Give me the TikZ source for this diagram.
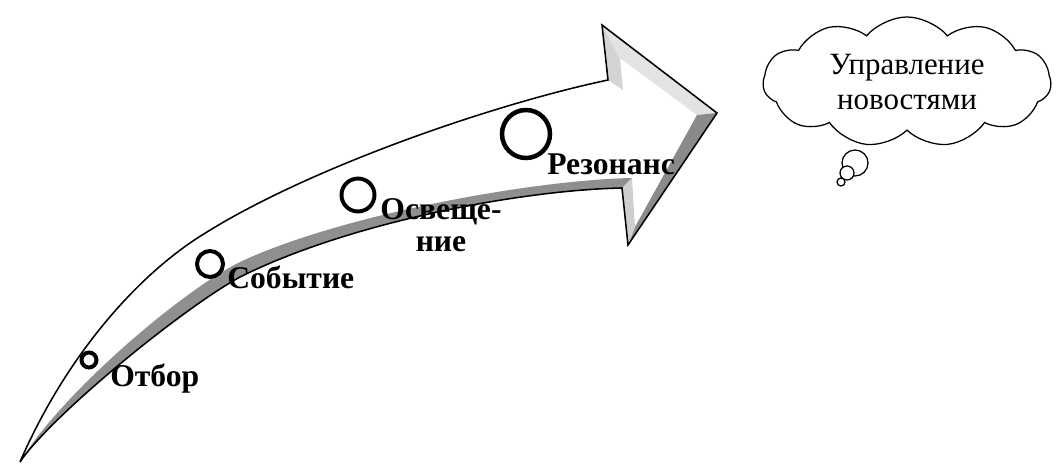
\documentclass[tikz,border=0pt]{standalone}
\usepackage{fontspec}
\setmainfont{Liberation Serif}
\usepackage{xcolor}
\usepackage{tikz}
\usetikzlibrary{shapes.symbols}

\begin{document}
\begin{tikzpicture}[
    x=0.025cm, y=-0.025cm,
    ring/.style={circle,draw,line width=2.8pt,inner sep=0pt},
    stage/.style={font=\bfseries\fontsize{22.5}{22.8}\selectfont,inner sep=0pt,align=center},
    thought/.style={cloud,cloud puffs=11,cloud puff arc=100,cloud ignores aspect,draw,line width=0.9pt,fill=white,align=center,font=\fontsize{22}{25}\selectfont},
    bubble/.style={circle,draw,line width=0.9pt,fill=white,inner sep=0pt},
    band/.style={fill=black!44},
    outline/.style={draw=black,line width=1.1pt,line join=miter}
]
\useasboundingbox[fill=white] (0,0) rectangle (1058,465);

% arrow corners
\coordinate (tail) at (20,462);
\coordinate (un) at (608,80);
\coordinate (ut) at (602,25);
\coordinate (tip) at (717,113);
\coordinate (lt) at (628,245);
\coordinate (ln) at (622,188);
\coordinate (iut) at (620,58);
\coordinate (iun) at (623,90);
\coordinate (itip) at (697,115);
\coordinate (ilt) at (635,227);
\coordinate (iln) at (632,178);

% shaded band under the shaft
\fill[band] (tail) .. controls (60,395) and (180,292) .. (240,262)
    .. controls (340,215) and (532,180) .. (iln) -- (ln)
    .. controls (522,190) and (350,222) .. (240,277)
    .. controls (180,310) and (50,417) .. (tail) -- cycle;

% bevelled faces of the head
\fill[black!17] (un) -- (ut) -- (iut) -- (iun) -- cycle;
\fill[black!11] (ut) -- (tip) -- (itip) -- (iut) -- cycle;
\fill[black!46] (tip) -- (lt) -- (ilt) -- (itip) -- cycle;
\fill[black!19] (lt) -- (ln) -- (iln) -- (ilt) -- cycle;

% outline
\path[outline] (tail) .. controls (65,358) and (137,274) .. (207,232)
    .. controls (310,168) and (490,105) .. (un)
    -- (ut) -- (tip) -- (lt) -- (ln)
    .. controls (522,190) and (350,222) .. (240,277)
    .. controls (180,310) and (50,417) .. (tail) -- cycle;

% stages
\node[ring,minimum size=0.375cm] (r1) at (89,360) {};
\node[ring,minimum size=0.65cm] (r2) at (210,264) {};
\node[ring,minimum size=0.825cm] (r3) at (358,195) {};
\node[ring,line width=3.2pt,minimum size=1.2cm] (r4) at (526,134) {};

\node[stage,anchor=base west] (otbor) at (110,386) {Отбор};
\node[stage,anchor=base west] (sobytie) at (227,288) {Событие};
\node[stage,anchor=north] (osv) at (441,198) {Освеще-\\ние};
\node[stage,anchor=base west] (rezonans) at (547,175) {Резонанс};

% thought cloud
\node[thought,minimum width=7.2cm,minimum height=3.25cm] (news) at (907,82) {Управление\\новостями};
\node[bubble,minimum size=0.65cm] (b1) at (855,163) {};
\node[bubble,minimum size=0.35cm] (b2) at (847,173) {};
\node[bubble,minimum size=0.2cm] (b3) at (841,182) {};
\end{tikzpicture}
\end{document}
